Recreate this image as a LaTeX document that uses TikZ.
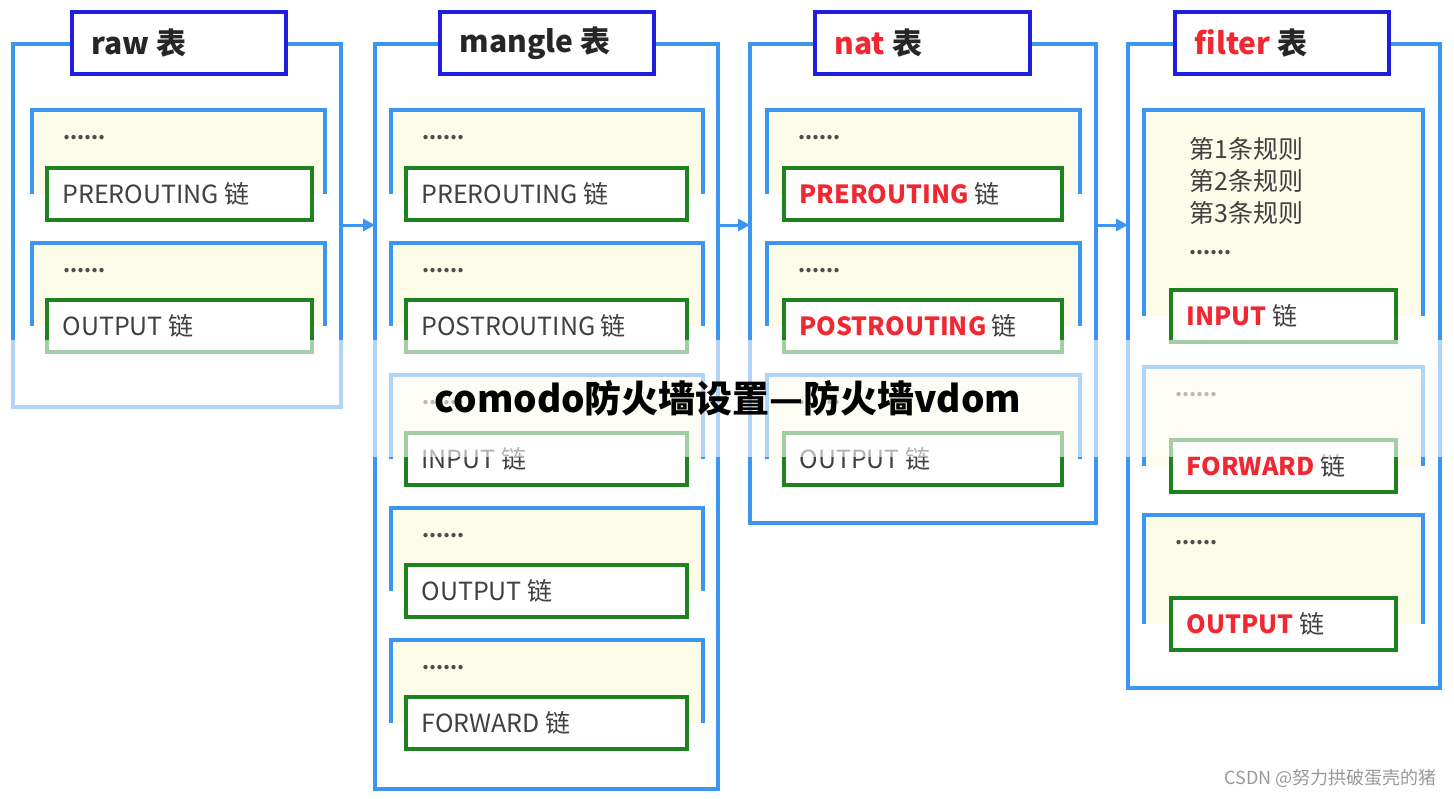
\documentclass[tikz,border=0pt]{standalone}
\usepackage{fontspec}
\setmainfont{Noto Sans CJK SC}
\usetikzlibrary{calc,arrows.meta}
\definecolor{frameblue}{RGB}{60,150,240}
\definecolor{titleblue}{RGB}{30,30,220}
\definecolor{chaingreen}{RGB}{30,130,30}
\definecolor{groupfill}{RGB}{253,252,232}
\definecolor{hotred}{RGB}{240,40,50}
\tikzset{
	tableframe/.style={draw=frameblue, line width=3.4pt},
	titlebox/.style={draw=titleblue, line width=3.6pt, fill=white},
	groupbox/.style={draw=frameblue, line width=3.4pt, fill=groupfill},
	chainbox/.style={draw=chaingreen, line width=3.6pt, fill=white},
	chainlabel/.style={anchor=west, font=\fontsize{25}{27}\selectfont, text=black!75},
	dots/.style={anchor=west, font=\fontsize{20}{20}\selectfont\bfseries, text=black!70},
	flow/.style={draw=frameblue, line width=3pt, -{Triangle[length=12pt,width=12pt]}}
}
% title box of one table
\newcommand{\tabletitle}[5]{% name, x1, x2, colour, text
	\draw[titlebox] (#2,12) rectangle (#3,74);
	\node[anchor=west, font=\fontsize{30}{32}\selectfont\bfseries, text=#4] (#1) at (#2+16,43) {#5};
}
% group box, dots and chain
\newcommand{\chaingroup}[8]{% name, gx1, gx2, top, cx1, cx2, chain top, label
	\draw[groupbox] (#2,#7+26) -- (#2,#4) -- (#3,#4) -- (#3,#7+26);
	\node[dots] (#1dots) at (#2+28,#4+28) {......};
	\draw[chainbox] (#5,#7) rectangle (#6,#7+52);
	\node[chainlabel] (#1) at (#5+12,#7+26) {#8};
}

\begin{document}
\begin{tikzpicture}[x=1pt,y=-1pt]

	\useasboundingbox (0,0) rectangle (1454,798);

	% raw
	\draw[tableframe] (13,44) rectangle (341,407);
	\chaingroup{rawpre}{32}{325}{110}{47}{312}{168}{PREROUTING 链}
	\chaingroup{rawout}{32}{325}{243}{47}{312}{300}{OUTPUT 链}
	\tabletitle{raw}{72}{286}{black!85}{raw 表}

	% mangle
	\draw[tableframe] (375,44) rectangle (718,789);
	\chaingroup{manglepre}{391}{703}{110}{406}{687}{168}{PREROUTING 链}
	\chaingroup{manglepost}{391}{703}{243}{406}{687}{300}{POSTROUTING 链}
	\chaingroup{manglein}{391}{703}{375}{406}{687}{433}{INPUT 链}
	\chaingroup{mangleout}{391}{703}{508}{406}{687}{565}{OUTPUT 链}
	\chaingroup{manglefwd}{391}{703}{640}{406}{687}{697}{FORWARD 链}
	\tabletitle{mangle}{440}{654}{black!85}{mangle 表}

	% nat
	\draw[tableframe] (750,44) rectangle (1096,523);
	\chaingroup{natpre}{767}{1080}{110}{784}{1062}{168}{\textcolor{hotred}{\bfseries PREROUTING} 链}
	\chaingroup{natpost}{767}{1080}{243}{784}{1062}{300}{\textcolor{hotred}{\bfseries POSTROUTING} 链}
	\chaingroup{natout}{767}{1080}{375}{784}{1062}{433}{OUTPUT 链}
	\tabletitle{nat}{815}{1030}{hotred}{nat \textcolor{black!85}{表}}

	% filter
	\draw[tableframe] (1128,44) rectangle (1440,688);
	\draw[groupbox] (1144,316) -- (1144,110) -- (1423,110) -- (1423,316);
	\draw[chainbox] (1171,290) rectangle (1396,342);
	\node[chainlabel] (filterin) at (1183,316) {\textcolor{hotred}{\bfseries INPUT} 链};
	\node[anchor=north west, align=left, font=\fontsize{25}{32}\selectfont, text=black!75] (rules) at (1186,134) {第1条规则\\第2条规则\\第3条规则};
	\node[dots] (rulesdots) at (1186,253) {......};
	\chaingroup{filterfwd}{1144}{1423}{367}{1171}{1396}{440}{\textcolor{hotred}{\bfseries FORWARD} 链}
	\chaingroup{filterout}{1144}{1423}{515}{1171}{1396}{598}{\textcolor{hotred}{\bfseries OUTPUT} 链}
	\tabletitle{filter}{1175}{1389}{hotred}{filter \textcolor{black!85}{表}}

	% flow between tables
	\coordinate (f1) at (341,225);
	\coordinate (t1) at (375,225);
	\coordinate (f2) at (718,225);
	\coordinate (t2) at (750,225);
	\coordinate (f3) at (1096,225);
	\coordinate (t3) at (1128,225);
	\draw[flow] (f1) -- (t1);
	\draw[flow] (f2) -- (t2);
	\draw[flow] (f3) -- (t3);

	% overlay band and caption
	\fill[white, opacity=0.6] (0,340) rectangle (1454,457);
	\node[font=\fontsize{37}{39}\selectfont\bfseries] (caption) at (728,398) {comodo防火墙设置—防火墙vdom};
	\node[anchor=east, font=\fontsize{18}{19}\selectfont, text=black!40] (mark) at (1440,778) {CSDN @努力拱破蛋壳的猪};

\end{tikzpicture}
\end{document}
